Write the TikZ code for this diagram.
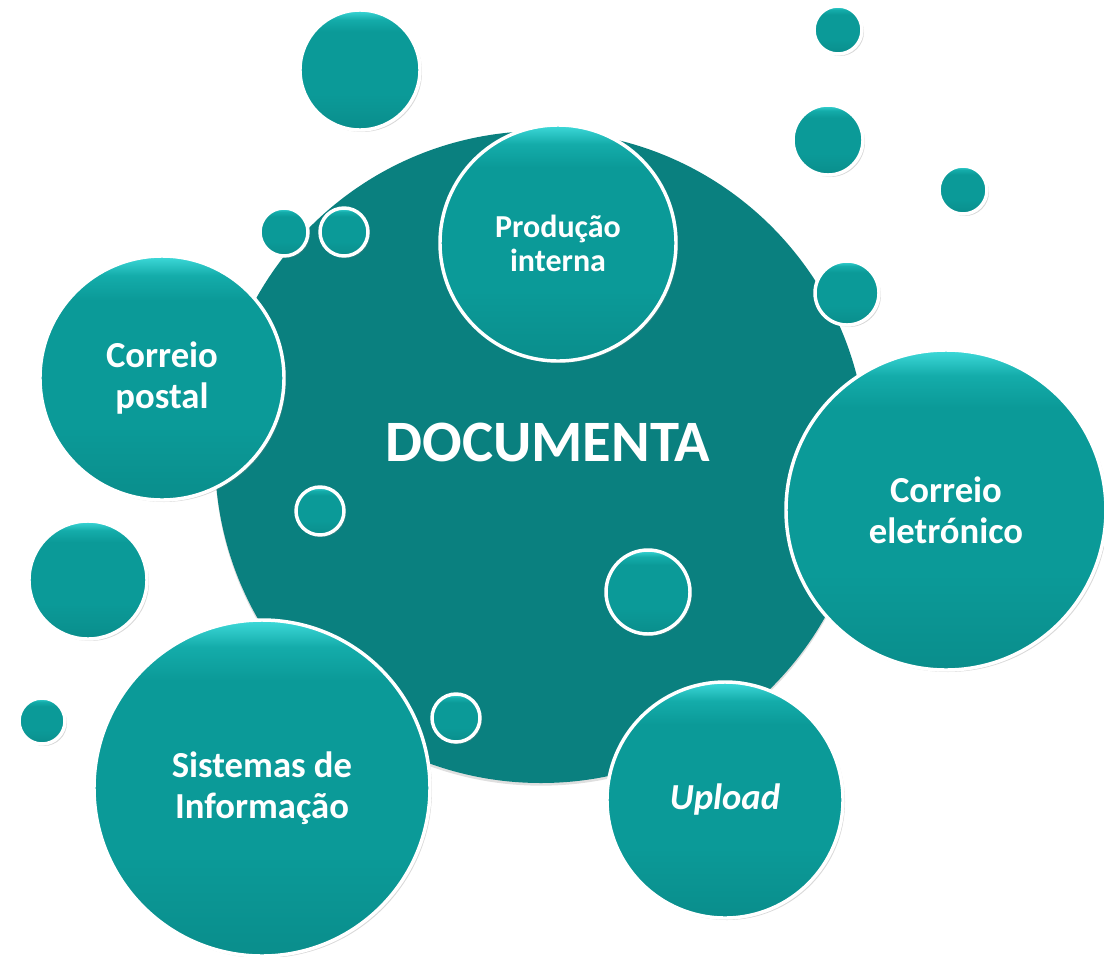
\documentclass[tikz,border=0pt]{standalone}
\usepackage{fontspec}
\setmainfont{Carlito}
\usetikzlibrary{shadows}
\definecolor{bigteal}{HTML}{0A807F}
\definecolor{bubteal}{HTML}{0B9A98}
\definecolor{bubtop}{HTML}{3EDADA}
\definecolor{bubmid}{HTML}{14ACAA}
\pgfdeclareverticalshading{bubshade}{100bp}{color(0bp)=(bubteal!92!black); color(25bp)=(bubteal!92!black); color(40bp)=(bubteal); color(66bp)=(bubteal); color(71bp)=(bubmid); color(75bp)=(bubtop); color(100bp)=(bubtop)}
\tikzset{
  bigbub/.style={circle, inner sep=0pt, fill=bigteal,
    drop shadow={opacity=0.25, shadow xshift=0pt, shadow yshift=-2pt}},
  bub/.style={circle, inner sep=0pt, draw=white, line width=2.6pt,
    shading=bubshade,
    drop shadow={opacity=0.3, shadow xshift=1.5pt, shadow yshift=-1.5pt, fill=gray},
    text=white, font=\bfseries, align=center},
  lbl/.style={font=\fontsize{27.5}{31}\selectfont\bfseries}
}
\begin{document}
\begin{tikzpicture}[x=0.75pt,y=-0.75pt]
\useasboundingbox (0,0) rectangle (1104,957);
\node[bigbub, minimum size=2*326*0.75pt] (doc) at (541,457) {};
\node[text=white, font=\fontsize{44}{50}\selectfont\bfseries] (doclbl) at (548,442) {DOCUMENTA};
% small bubbles
\node[bub, minimum size=2*60*0.75pt] (s1) at (360,70) {};
\node[bub, minimum size=2*24*0.75pt] (s2) at (838,30) {};
\node[bub, minimum size=2*35*0.75pt] (s3) at (828,140) {};
\node[bub, minimum size=2*24*0.75pt] (s4) at (963,190) {};
\node[bub, minimum size=2*32*0.75pt] (s5) at (847,293) {};
\node[bub, minimum size=2*24*0.75pt] (s6) at (284,232) {};
\node[bub, minimum size=2*24*0.75pt] (s7) at (344,232) {};
\node[bub, minimum size=2*24*0.75pt] (s8) at (320,511) {};
\node[bub, minimum size=2*59*0.75pt] (s9) at (88,580) {};
\node[bub, minimum size=2*23*0.75pt] (s10) at (42,721) {};
\node[bub, minimum size=2*24*0.75pt] (s11) at (456,718) {};
\node[bub, minimum size=2*42*0.75pt] (s12) at (648,592) {};
% labelled bubbles
\node[bub, minimum size=2*118*0.75pt, font=\fontsize{24}{25.5}\selectfont\bfseries] (prod) at (558,243) {Produção\\interna};
\node[bub, minimum size=2*122*0.75pt, lbl] (postal) at (162,378) {Correio\\postal};
\node[bub, minimum size=2*160*0.75pt, lbl] (email) at (946,510) {Correio\\eletrónico};
\node[bub, minimum size=2*168*0.75pt, lbl] (sis) at (262,788) {Sistemas de\\Informação};
\node[bub, minimum size=2*118*0.75pt, lbl] (up) at (725,800) {\itshape Upload};
\end{tikzpicture}
\end{document}
